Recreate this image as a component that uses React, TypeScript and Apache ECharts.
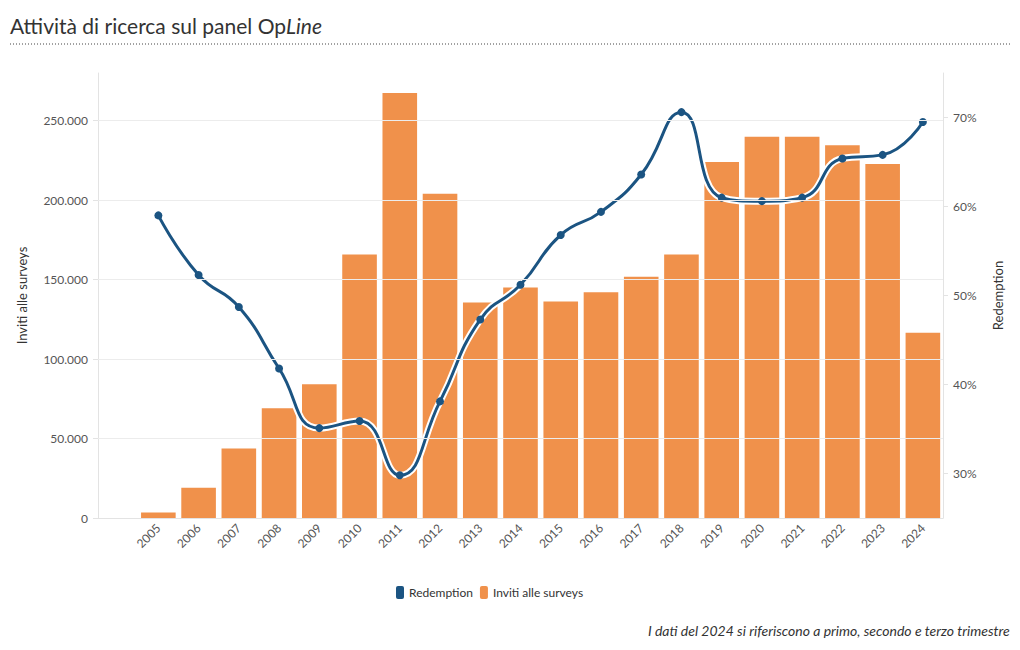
import React, { useEffect, useRef } from 'react';
import * as echarts from 'echarts';

const years = ['', '2005', '2006', '2007', '2008', '2009', '2010', '2011', '2012', '2013', '2014', '2015', '2016', '2017', '2018', '2019', '2020', '2021', '2022', '2023', '2024'];
const invites = [null, 3500, 19100, 43700, 69000, 84200, 165800, 267400, 204000, 135600, 145000, 136200, 142100, 151800, 165800, 224000, 239900, 239900, 234500, 222700, 116500];
const redemption = [null, 59.0, 52.3, 48.7, 41.8, 35.1, 35.9, 29.8, 38.1, 47.3, 51.2, 56.8, 59.4, 63.6, 70.6, 61.0, 60.6, 61.0, 65.4, 65.8, 69.5];
const leftTicks = [0, 50000, 100000, 150000, 200000, 250000];
const rightTicks = [30, 40, 50, 60, 70];

const FONT = 'Lato, "Open Sans", sans-serif';
const fmtThousands = (v: number) => String(Math.round(v)).replace(/\B(?=(\d{3})+(?!\d))/g, '.');

export default function App() {
  const ref = useRef<HTMLDivElement>(null);
  useEffect(() => {
    document.body.style.margin = '0';
    const chart = echarts.init(ref.current!, undefined, { renderer: 'svg' });
    chart.setOption({
      animation: false,
      textStyle: { fontFamily: FONT },
      title: {
        text: '{a|Attività di ricerca sul panel Op}{b|Line}',
        left: 5,
        top: 10,
        textStyle: {
          fontWeight: 'normal',
          rich: {
            a: { fontSize: 21, color: '#333', fontWeight: 'normal', fontFamily: FONT },
            b: { fontSize: 21, color: '#333', fontWeight: 'normal', fontStyle: 'italic', fontFamily: FONT },
          },
        },
      },
      graphic: [
        {
          type: 'line',
          shape: { x1: 10, y1: 44, x2: 1010, y2: 44 },
          style: { stroke: '#444', lineWidth: 1, lineDash: [1, 2] },
          silent: true,
        },
        {
          type: 'text',
          right: 10,
          top: 623,
          style: {
            text: 'I dati del 2024 si riferiscono a primo, secondo e terzo trimestre',
            fontSize: 14,
            fontStyle: 'italic',
            fill: '#333',
            fontFamily: FONT,
          },
          silent: true,
        },
      ],
      legend: {
        data: ['Redemption', 'Inviti alle surveys'],
        left: 391,
        top: 581,
        icon: 'roundRect',
        itemWidth: 8,
        itemHeight: 13,
        itemGap: 7,
        textStyle: { fontSize: 12, color: '#333', fontFamily: FONT },
      },
      grid: { left: 98, right: 77, top: 73, bottom: 132, outerBoundsMode: 'none' },
      xAxis: {
        type: 'category',
        data: years,
        axisLine: { lineStyle: { color: '#e3e3e3' } },
        axisTick: {
          alignWithLabel: true,
          length: 5,
          lineStyle: { color: '#e3e3e3' },
          interval: (i: number, v: string) => v !== '',
        },
        axisLabel: { rotate: 45, interval: 0, color: '#555', fontSize: 12, margin: 8, fontFamily: FONT },
      },
      yAxis: [
        {
          type: 'value',
          min: 0,
          max: 280000,
          name: 'Inviti alle surveys',
          nameLocation: 'middle',
          nameGap: 70,
          nameRotate: 90,
          nameTextStyle: { color: '#333', fontSize: 13, fontFamily: FONT },
          axisLine: { show: true, lineStyle: { color: '#e3e3e3' } },
          axisTick: { show: true, length: 5, lineStyle: { color: '#e3e3e3' }, customValues: leftTicks },
          axisLabel: { color: '#555', fontSize: 12, margin: 10, formatter: fmtThousands, customValues: leftTicks, fontFamily: FONT },
          splitLine: { show: false },
        },
        {
          type: 'value',
          min: 25,
          max: 75,
          name: 'Redemption',
          nameLocation: 'middle',
          nameGap: 48,
          nameRotate: 90,
          nameTextStyle: { color: '#333', fontSize: 13, fontFamily: FONT },
          axisLine: { show: true, lineStyle: { color: '#e3e3e3' } },
          axisTick: { show: true, length: 5, lineStyle: { color: '#e3e3e3' }, customValues: rightTicks },
          axisLabel: { color: '#555', fontSize: 12, margin: 10, formatter: (v: number) => `${v}%`, customValues: rightTicks, fontFamily: FONT },
          splitLine: { show: false },
        },
      ],
      series: [
        {
          name: 'grid',
          type: 'line',
          yAxisIndex: 0,
          data: [],
          silent: true,
          markLine: {
            silent: true,
            symbol: 'none',
            label: { show: false },
            lineStyle: { color: '#ececec', type: 'solid', width: 1 },
            data: leftTicks.slice(1).map((v) => ({ yAxis: v })),
          },
          z: 0,
        },
        {
          name: 'Inviti alle surveys',
          type: 'bar',
          yAxisIndex: 0,
          data: invites,
          barWidth: '86%',
          itemStyle: { color: '#f0914b' },
          z: 2,
        },
        {
          name: 'halo',
          type: 'line',
          yAxisIndex: 1,
          data: redemption,
          smooth: true,
          showSymbol: false,
          symbol: 'none',
          lineStyle: { color: '#ffffff', width: 7 },
          silent: true,
          z: 3,
        },
        {
          name: 'Redemption',
          type: 'line',
          yAxisIndex: 1,
          data: redemption,
          smooth: true,
          symbol: 'circle',
          symbolSize: 8,
          lineStyle: { color: '#1b5482', width: 3 },
          itemStyle: { color: '#1b5482' },
          z: 4,
        },
      ],
    });
    return () => chart.dispose();
  }, []);
  return <div ref={ref} style={{ width: 1020, height: 650 }} />;
}
